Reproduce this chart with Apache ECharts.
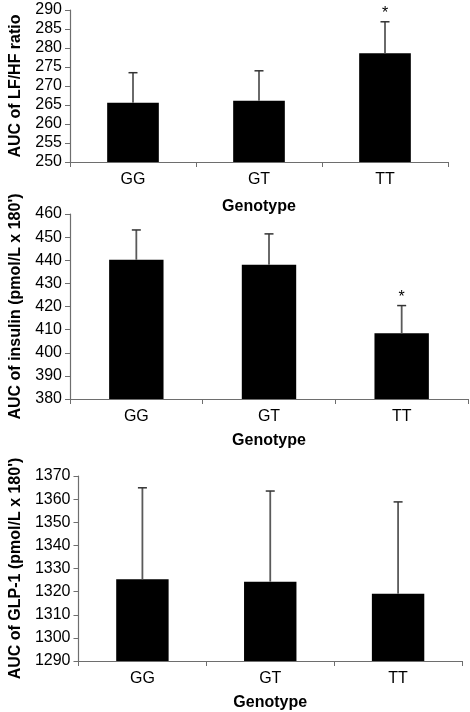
<!DOCTYPE html>
<html>
<head>
<meta charset="utf-8">
<script src="https://cdn.jsdelivr.net/npm/echarts@6/dist/echarts.min.js"></script>
<style>
html,body{margin:0;padding:0;background:#fff;}
#chart{width:470px;height:712px;}
</style>
</head>
<body>
<div id="chart"></div>
<script>
const categories = ['GG', 'GT', 'TT'];

const lfhfMean = [265.6, 266.1, 278.6];
const lfhfSD = [7.9, 7.9, 8.3];
const lfhfStars = ['', '', '*'];

const insulinMean = [440.2, 438.1, 408.4];
const insulinSD = [12.9, 13.3, 12.0];
const insulinStars = ['', '', '*'];

const glpMean = [1325.3, 1324.3, 1319.1];
const glpSD = [39.6, 39.2, 39.7];
const glpStars = ['', '', ''];

const lfhfTicks = { min: 250, max: 290, interval: 5 };
const insulinTicks = { min: 380, max: 460, interval: 10 };
const glpTicks = { min: 1290, max: 1370, interval: 10 };

const yNames = ['AUC of LF/HF ratio', "AUC of insulin (pmol/L x 180')", "AUC of GLP-1 (pmol/L x 180')"];
const xName = 'Genotype';

const FONT = "'Liberation Sans', Arial, sans-serif";
const AXIS_COLOR = '#6e6e6e';

const panels = [
  { mean: lfhfMean, sd: lfhfSD, stars: lfhfStars, ticks: lfhfTicks, xGap: 37, grid: { left: 62, top: 10, width: 386, height: 152 } },
  { mean: insulinMean, sd: insulinSD, stars: insulinStars, ticks: insulinTicks, xGap: 34, grid: { left: 62, top: 214, width: 406, height: 185 } },
  { mean: glpMean, sd: glpSD, stars: glpStars, ticks: glpTicks, xGap: 34, grid: { left: 62, top: 476, width: 400, height: 186 } }
];

const grid = [], xAxis = [], yAxis = [], series = [];
panels.forEach((p, i) => {
  grid.push(p.grid);
  xAxis.push({
    type: 'category', gridIndex: i, data: categories,
    name: xName, nameLocation: 'middle', nameGap: p.xGap,
    nameTextStyle: { fontFamily: FONT, fontWeight: 'bold', fontSize: 16, color: '#000' },
    axisLine: { lineStyle: { color: AXIS_COLOR, width: 1.2 } },
    axisTick: { show: true, length: 5, lineStyle: { color: AXIS_COLOR } },
    axisLabel: { fontFamily: FONT, fontSize: 16, color: '#000', margin: 10 },
    splitLine: { show: false }
  });
  yAxis.push({
    type: 'value', gridIndex: i, min: p.ticks.min, max: p.ticks.max, interval: p.ticks.interval,
    name: yNames[i], nameLocation: 'middle', nameGap: 46, nameRotate: 90,
    nameTextStyle: { fontFamily: FONT, fontWeight: 'bold', fontSize: 16, color: '#000' },
    axisLine: { show: true, lineStyle: { color: AXIS_COLOR, width: 1.2 } },
    axisTick: { show: true, length: 5, lineStyle: { color: AXIS_COLOR } },
    axisLabel: { fontFamily: FONT, fontSize: 16, color: '#000', margin: 8, formatter: v => String(v) },
    splitLine: { show: false }
  });
  series.push({
    type: 'bar', xAxisIndex: i, yAxisIndex: i,
    data: p.mean, barWidth: '41%',
    itemStyle: { color: '#000' }, silent: true
  });
  const stars = p.stars;
  series.push({
    type: 'custom', xAxisIndex: i, yAxisIndex: i,
    data: p.mean.map((m, k) => [k, m, m + p.sd[k]]),
    encode: { x: 0, y: [1, 2] },
    silent: true, z: 5,
    renderItem: function (params, api) {
      const x = api.value(0);
      const p0 = api.coord([x, api.value(1)]);
      const p1 = api.coord([x, api.value(2)]);
      const children = [
        { type: 'line', shape: { x1: p0[0], y1: p0[1], x2: p1[0], y2: p1[1] }, style: { stroke: '#5a5a5a', lineWidth: 1.8 } },
        { type: 'line', shape: { x1: p1[0] - 4.5, y1: p1[1], x2: p1[0] + 4.5, y2: p1[1] }, style: { stroke: '#333', lineWidth: 1.5 } }
      ];
      const s = stars[params.dataIndex];
      if (s) {
        children.push({ type: 'text', x: p1[0], y: p1[1] - 8, style: { text: s, fontFamily: FONT, fontSize: 16, fill: '#000', textAlign: 'center', textVerticalAlign: 'middle' } });
      }
      return { type: 'group', children: children };
    }
  });
});

const chart = echarts.init(document.getElementById('chart'), null, { renderer: 'canvas' });
chart.setOption({
  animation: false,
  backgroundColor: '#fff',
  grid: grid, xAxis: xAxis, yAxis: yAxis, series: series
});
</script>
</body>
</html>
